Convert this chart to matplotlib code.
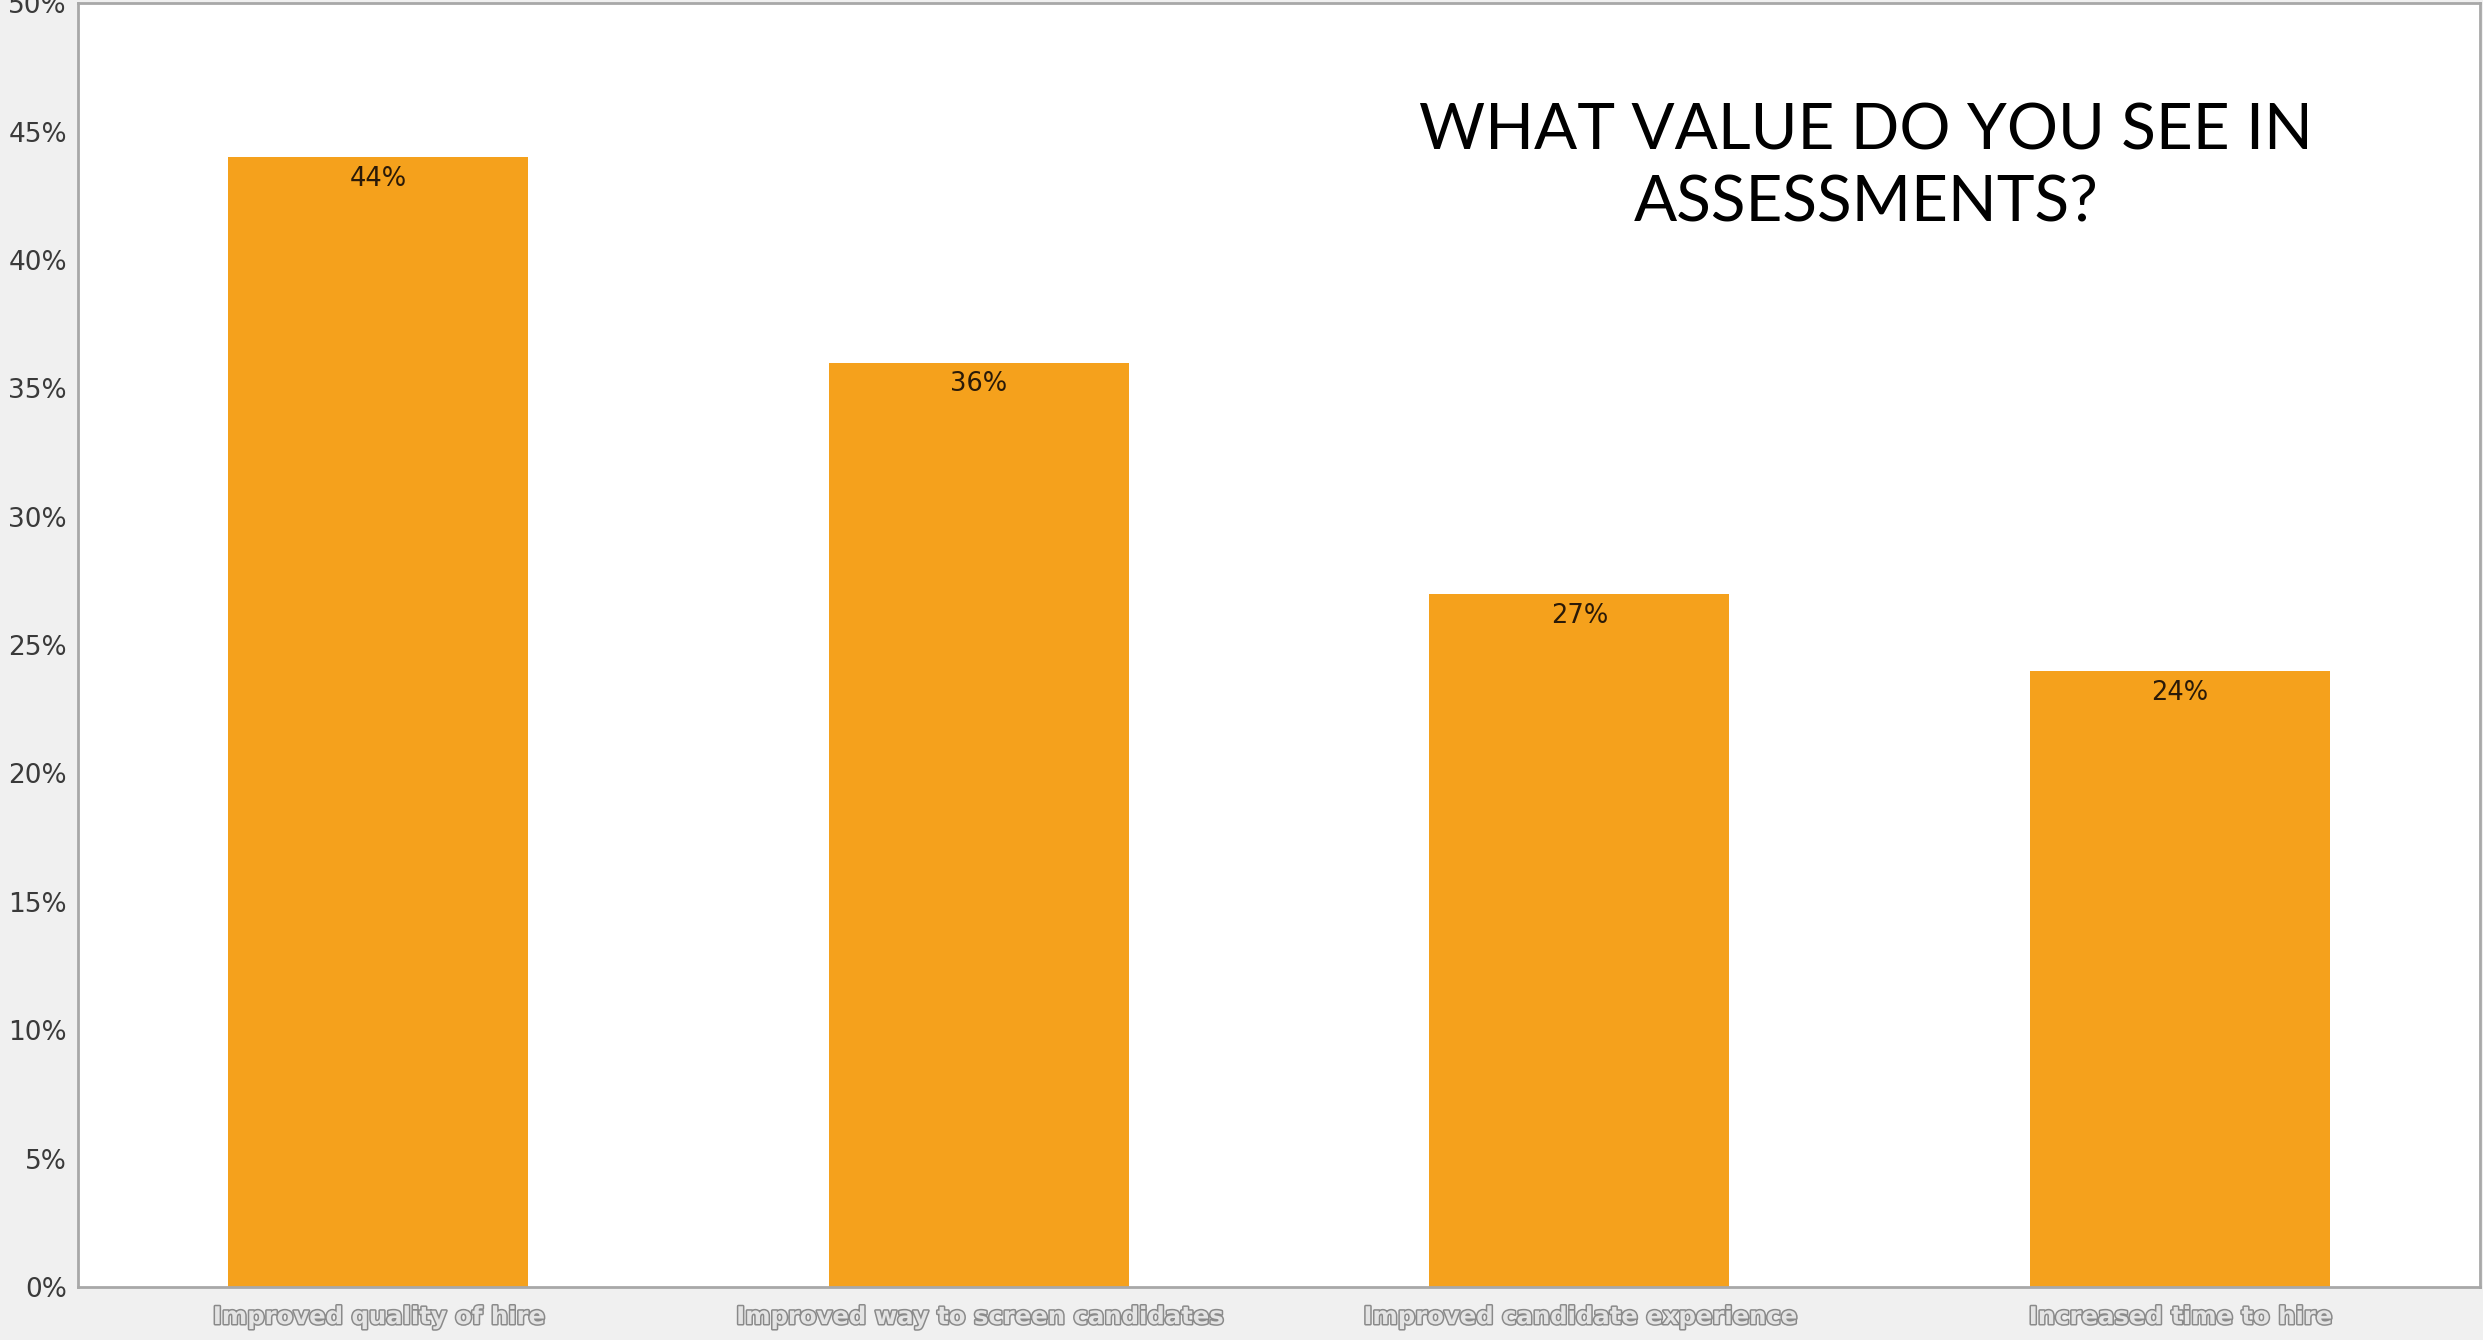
import matplotlib.pyplot as plt
import matplotlib.patheffects as pe
from matplotlib.ticker import FuncFormatter

# survey answers (share of respondents, %)
answers = ["Improved quality of hire", "Improved way to screen candidates",
           "Improved candidate experience", "Increased time to hire"]
shares = [44, 36, 27, 24]
y_ticks = [0, 5, 10, 15, 20, 25, 30, 35, 40, 45, 50]

fig = plt.figure(figsize=(24.83, 13.4), dpi=100, facecolor="#f0f0f0")
ax = fig.add_axes([0.0314, 0.0396, 0.9674, 0.958])
ax.set_facecolor("white")

x = range(len(answers))
bars = ax.bar(x, shares, width=0.5, color="#f5a11c", zorder=2)

for b, v in zip(bars, shares):
    ax.text(b.get_x() + b.get_width() / 2, v - 0.85, f"{v}%", ha="center", va="center",
            fontsize=18.5, color="#2a1a08")

ax.set_xlim(-0.5, 3.5)
ax.set_ylim(0, 50)
ax.set_yticks(y_ticks)
ax.yaxis.set_major_formatter(FuncFormatter(lambda v, p: f"{v:.0f}%"))
ax.tick_params(axis="y", length=0, pad=8, labelsize=19, labelcolor="#3a3a3a")
ax.set_xticks(list(x))
ax.set_xticklabels(answers)
ax.tick_params(axis="x", length=0, pad=13)
for lbl in ax.get_xticklabels():
    lbl.set_fontsize(17.5)
    lbl.set_fontweight("bold")
    lbl.set_color("#e4e4e4")
    lbl.set_path_effects([pe.Stroke(linewidth=2.2, foreground="#8a8a8a"), pe.Normal()])

for s in ax.spines.values():
    s.set_color("#a8a8a8")
    s.set_linewidth(2)

fig.text(0.7515, 0.875, "WHAT VALUE DO YOU SEE IN\nASSESSMENTS?", ha="center", va="center",
         fontsize=46, family="Lato", color="black", linespacing=1.28)

plt.savefig("out.png", dpi=100, facecolor=fig.get_facecolor())
